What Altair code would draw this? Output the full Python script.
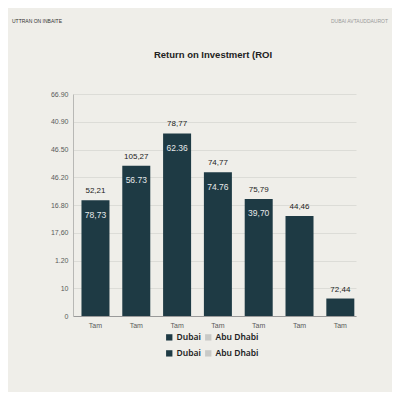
import altair as alt
import pandas as pd

# values (bar heights in axis-tick units)
bar_labels = ["Tam", "Tam", "Tam", "Tam", "Tam", "Tam", "Tam"]
roi_height = [4.17, 5.41, 6.58, 5.18, 4.22, 3.60, 0.63]
top_text = ["52,21", "105,27", "78,77", "74,77", "75,79", "44,46", "72,44"]
inner_text = ["78,73", "56.73", "62.36", "74.76", "39,70", "", ""]
y_tick_labels = ["0", "10", "1.20", "17,60", "16.80", "46.20", "46.50", "40.90", "66.90"]
series = ["Dubai", "Abu Dhabi"]
series_colors = ["#1e3a44", "#c9c9c6"]

df = pd.DataFrame({
    "idx": list(range(len(bar_labels))),
    "label": bar_labels,
    "roi": roi_height,
    "top": top_text,
    "inner": inner_text,
    "series": ["Dubai"] * len(bar_labels),
})
legend_df = pd.DataFrame({"series": series})
notes_df = pd.DataFrame({
    "left": ["UTTRAN ON INBAITE"],
    "right": ["DUBAI AVTAUDDAUROT"],
    "title": ["Return on Investmert (ROI"],
})

label_expr = "[" + ",".join("'%s'" % s for s in bar_labels) + "][datum.value]"
ytick_expr = "[" + ",".join("'%s'" % s for s in y_tick_labels) + "][datum.value]"

x_enc = alt.X(
    "idx:O",
    title=None,
    scale=alt.Scale(paddingInner=0.31, paddingOuter=0.1225, align=0.84),
    axis=alt.Axis(labelExpr=label_expr, labelAngle=0, ticks=False, labelPadding=5,
                  labelFontSize=7, labelColor="#5a5a5a", labelFont="Liberation Sans",
                  domainColor="#9a9a9a", grid=False),
)
y_enc = alt.Y(
    "roi:Q",
    title=None,
    scale=alt.Scale(domain=[0, 8], nice=False),
    axis=alt.Axis(values=[0, 1, 2, 3, 4, 5, 6, 7, 8], tickCount=9, labelExpr=ytick_expr,
                  ticks=False, labelPadding=5, labelOverlap=False, labelFontSize=7,
                  labelColor="#5a5a5a", labelFont="Liberation Sans",
                  domainColor="#b8b8b5", gridColor="#dcdcd7"),
)

leg_common = dict(orient="none", direction="horizontal", title=None, symbolType="square",
                  symbolSize=40, symbolStrokeWidth=0, symbolOpacity=1, labelFontSize=8.5,
                  labelFontWeight=600, labelColor="#222222", labelFont="Noto Sans",
                  labelOffset=3, columnPadding=3, padding=0)

bars = alt.Chart(df).mark_bar(size=28).encode(
    x=x_enc,
    y=y_enc,
    color=alt.Color("series:N",
                    scale=alt.Scale(domain=series, range=series_colors),
                    legend=alt.Legend(legendX=92, legendY=239, **leg_common)),
)

top_labels = alt.Chart(df).mark_text(baseline="bottom", dy=-5, fontSize=8, fontWeight=500,
                                     color="#222222", font="Liberation Sans").encode(
    x=x_enc, y=y_enc, text="top:N")

inner_labels = alt.Chart(df).mark_text(baseline="middle", dy=14.5, fontSize=8.5, fontWeight=500,
                                       color="#e6e9ea", font="Liberation Sans").encode(
    x=x_enc, y=y_enc, text="inner:N")

legend_row2 = alt.Chart(legend_df).mark_square(opacity=0).encode(
    fill=alt.Fill("series:N", sort=series,
                  scale=alt.Scale(range=series_colors),
                  legend=alt.Legend(legendX=92, legendY=255, **leg_common)),
)

note_left = alt.Chart(notes_df).mark_text(align="left", baseline="middle", fontSize=5,
                                          color="#333333", font="Liberation Sans").encode(
    x=alt.value(-61), y=alt.value(-73), text="left:N")
note_right = alt.Chart(notes_df).mark_text(align="right", baseline="middle", fontSize=5,
                                           color="#9a9a9a", font="Liberation Sans").encode(
    x=alt.value(315), y=alt.value(-73), text="right:N")
title_text = alt.Chart(notes_df).mark_text(align="center", baseline="middle", fontSize=9.5,
                                           fontWeight=600, color="#222222",
                                           font="Liberation Sans").encode(
    x=alt.value(140), y=alt.value(-39), text="title:N")

chart = alt.layer(bars, top_labels, inner_labels, legend_row2,
                  note_left, note_right, title_text).properties(
    width=283,
    height=222,
    autosize=alt.AutoSizeParams(type="none"),
    padding={"left": 65, "top": 86, "right": 36, "bottom": 76},
    background="#efeee9",
).configure_view(stroke=None)

chart.save("out.html", embed_options={"renderer": "svg", "actions": False})
